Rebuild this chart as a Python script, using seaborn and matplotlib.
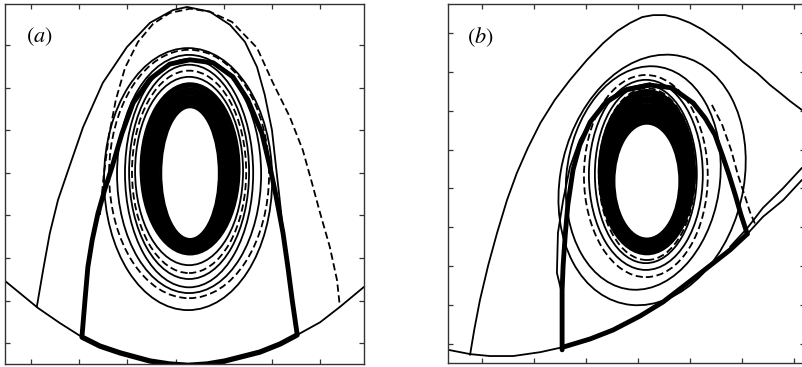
import matplotlib
matplotlib.use("Agg")
import matplotlib.pyplot as plt
from matplotlib.patches import Ellipse
import seaborn as sns

# ---------------- Panel (a) data ----------------
a_bottom_x = [0.46, 1.15, 1.60, 2.06, 2.43, 2.85, 3.47, 3.88, 4.26, 4.65, 5.02, 5.75, 6.17, 6.52, 7.00, 7.41, 7.91]
a_bottom_y = [2.46, 1.82, 1.47, 1.14, 0.93, 0.77, 0.58, 0.51, 0.48, 0.51, 0.58, 0.79, 0.98, 1.19, 1.49, 1.85, 2.32]
a_thickbot_x = [2.06, 2.43, 2.85, 3.47, 3.88, 4.26, 4.65, 5.02, 5.75, 6.17, 6.52]
a_thickbot_y = [1.14, 0.93, 0.77, 0.58, 0.51, 0.48, 0.51, 0.58, 0.79, 0.98, 1.19]
a_arch_x = [2.06, 2.12, 2.18, 2.27, 2.39, 2.54, 2.68, 2.89, 3.12, 3.47, 3.88, 4.30, 4.78, 5.19, 5.50, 5.79, 5.96, 6.08, 6.23, 6.33, 6.42, 6.52]
a_arch_y = [1.19, 2.01, 2.79, 3.42, 4.05, 4.64, 5.13, 5.93, 6.64, 7.20, 7.55, 7.65, 7.58, 7.25, 6.71, 5.93, 5.13, 4.48, 3.58, 2.79, 2.01, 1.23]
a_outer_x = [1.12, 1.25, 1.39, 1.56, 1.75, 2.08, 2.49, 2.99, 3.47, 3.95, 4.24, 4.71, 5.13, 5.44, 5.69, 5.85, 6.00, 6.08, 6.15, 6.23]
a_outer_y = [1.85, 2.71, 3.58, 4.36, 4.99, 6.07, 7.11, 7.95, 8.52, 8.82, 8.89, 8.78, 8.47, 8.07, 7.48, 6.83, 6.00, 5.18, 4.48, 3.65]
a_dash_x = [2.43, 2.51, 2.62, 2.76, 2.95, 3.22, 3.53, 3.88, 4.30, 4.71, 5.17, 5.69, 6.02, 6.37, 6.64, 6.83, 7.00, 7.20, 7.35, 7.41]
a_dash_y = [4.01, 4.95, 5.89, 6.71, 7.46, 8.07, 8.49, 8.75, 8.85, 8.78, 8.54, 7.93, 7.11, 6.31, 5.53, 4.76, 4.05, 3.26, 2.48, 1.85]
# closed orbits: centre x, centre y, width, height, dashed?
a_ring_cx = [4.26, 4.28, 4.28, 4.28, 4.28, 4.28, 4.28]
a_ring_cy = [4.85, 4.97, 4.97, 4.99, 5.02, 5.02, 5.04]
a_ring_w = [3.49, 3.32, 2.99, 2.66, 2.49, 2.37, 2.24]
a_ring_h = [6.15, 5.83, 5.59, 5.36, 5.03, 4.75, 4.42]
a_ring_dash = [False, True, False, False, False, True, False]
a_core_cx = [4.30] * 10
a_core_cy = [4.99, 5.00, 5.01, 5.02, 5.03, 5.04, 5.05, 5.06, 5.08, 5.09]
a_core_w = [1.22, 1.32, 1.40, 1.49, 1.59, 1.67, 1.76, 1.85, 1.94, 2.03]
a_core_h = [3.12, 3.22, 3.32, 3.42, 3.51, 3.61, 3.71, 3.81, 3.90, 3.99]

# ---------------- Panel (b) data ----------------
b_bottom_x = [0.35, 0.77, 1.15, 1.60, 2.12, 2.56, 3.08, 3.52, 4.04, 4.48, 5.13, 5.77, 6.10, 6.40, 6.79, 7.15]
b_bottom_y = [0.85, 0.74, 0.69, 0.69, 0.79, 0.92, 1.13, 1.36, 1.72, 2.08, 2.75, 3.42, 3.83, 4.27, 4.70, 5.22]
b_upper_x = [5.77, 6.10, 6.40, 6.79, 7.15]
b_upper_y = [3.50, 3.98, 4.50, 5.01, 5.53]
b_thickbot_x = [2.56, 3.08, 3.52, 4.04, 4.48, 5.13, 5.77, 6.10]
b_thickbot_y = [0.92, 1.13, 1.36, 1.72, 2.08, 2.75, 3.42, 3.83]
b_arch_x = [2.54, 2.54, 2.54, 2.56, 2.60, 2.65, 2.75, 2.88, 3.08, 3.37, 3.75, 4.23, 4.65, 5.06, 5.29, 5.48, 5.62, 5.75, 5.87, 5.98, 6.10]
b_arch_y = [0.85, 1.62, 2.39, 3.03, 3.80, 4.58, 5.48, 6.12, 6.71, 7.20, 7.53, 7.66, 7.59, 7.20, 6.81, 6.38, 5.86, 5.35, 4.83, 4.32, 3.83]
b_outer_x = [0.77, 0.85, 0.96, 1.12, 1.29, 1.48, 1.67, 1.88, 2.12, 2.40, 2.69, 3.02, 3.33, 3.60, 3.85, 4.08, 4.29, 4.52, 4.75, 5.00, 5.25, 5.52, 5.77, 6.02, 6.29, 6.54, 6.73, 6.92, 7.15]
b_outer_y = [0.72, 1.36, 2.13, 3.03, 3.86, 4.70, 5.40, 6.04, 6.68, 7.28, 7.79, 8.31, 8.74, 9.05, 9.26, 9.41, 9.46, 9.46, 9.39, 9.26, 9.08, 8.82, 8.56, 8.25, 7.97, 7.66, 7.46, 7.25, 7.02]
b_comp_x = [2.52, 2.44, 2.46, 2.56, 2.69, 2.88, 3.12, 3.40, 3.79, 4.23]
b_comp_y = [2.39, 2.83, 3.86, 4.70, 5.55, 6.25, 6.81, 7.28, 7.59, 7.71]
b_dash_x = [5.42, 5.62, 5.79, 5.92, 6.06, 6.15, 6.25]
b_dash_y = [7.15, 6.63, 5.99, 5.35, 4.78, 4.40, 4.09]
b_ring_cx = [4.27, 4.10, 4.15, 4.15, 4.15, 4.17]
b_ring_cy = [5.22, 5.27, 5.32, 5.35, 5.37, 5.37]
b_ring_w = [3.54, 2.96, 2.38, 2.19, 1.96, 1.85]
b_ring_h = [6.48, 5.76, 5.20, 4.89, 4.58, 4.42]
b_ring_tilt = [-7, -4, 0, 0, 0, 0]
b_ring_dash = [False, False, True, False, False, True]
b_core_cx = [4.17] * 10
b_core_cy = [5.19, 5.22, 5.24, 5.27, 5.30, 5.32, 5.35, 5.37, 5.40, 5.42]
b_core_w = [1.29, 1.35, 1.40, 1.46, 1.52, 1.58, 1.63, 1.69, 1.75, 1.81]
b_core_h = [3.01, 3.14, 3.27, 3.40, 3.52, 3.65, 3.78, 3.91, 4.04, 4.17]

a_xticks = [1, 2, 3, 4, 5, 6, 7]
a_yticks = [1, 2, 3, 4, 5, 6, 7, 8]
b_xticks = [1, 2, 3, 4, 5, 6, 7]
b_yticks = [1, 2, 3, 4, 5, 6, 7, 8, 9]

sns.set_style("white")
plt.rcParams["mathtext.fontset"] = "stix"

DASH = (0, (4, 2))
THIN = 1.3


def line(ax, x, y, lw=THIN, dashed=False):
    sns.lineplot(x=x, y=y, ax=ax, sort=False, estimator=None, color="black",
                 lw=lw, linestyle=DASH if dashed else "-")


def rings(ax, cx, cy, w, h, dash, lw, tilt=None):
    for i in range(len(cx)):
        ang = tilt[i] if tilt is not None else 0
        ax.add_patch(Ellipse((cx[i], cy[i]), w[i], h[i], angle=ang, fill=False,
                             ec="black", lw=lw, ls=DASH if dash[i] else "-"))


fig = plt.figure(figsize=(8.02, 3.67), dpi=100)
axa = fig.add_axes([5 / 802, 3 / 367, 359 / 802, 360 / 367])
axb = fig.add_axes([448 / 802, 4 / 367, 357 / 802, 359 / 367])

# panel a
rings(axa, a_ring_cx, a_ring_cy, a_ring_w, a_ring_h, a_ring_dash, THIN)
rings(axa, a_core_cx, a_core_cy, a_core_w, a_core_h, [False] * 10, 2.3)
line(axa, a_bottom_x, a_bottom_y)
line(axa, a_outer_x, a_outer_y)
line(axa, a_dash_x, a_dash_y, dashed=True)
line(axa, a_thickbot_x, a_thickbot_y, lw=3.8)
line(axa, a_arch_x, a_arch_y, lw=3.5)
axa.set_xlim(0.46, 7.91)
axa.set_ylim(0.51, 8.96)
axa.set_xticks(a_xticks)
axa.set_yticks(a_yticks)

# panel b
rings(axb, b_ring_cx, b_ring_cy, b_ring_w, b_ring_h, b_ring_dash, THIN, b_ring_tilt)
rings(axb, b_core_cx, b_core_cy, b_core_w, b_core_h, [False] * 10, 3.0)
line(axb, b_bottom_x, b_bottom_y)
line(axb, b_upper_x, b_upper_y)
line(axb, b_outer_x, b_outer_y)
line(axb, b_comp_x, b_comp_y)
line(axb, b_dash_x, b_dash_y, dashed=True)
line(axb, b_thickbot_x, b_thickbot_y, lw=3.5)
line(axb, b_arch_x, b_arch_y, lw=3.5)
axb.set_xlim(0.346, 7.21)
axb.set_ylim(0.511, 9.746)
axb.set_xticks(b_xticks)
axb.set_yticks(b_yticks)

for ax, lab in ((axa, r"$(\mathit{a})$"), (axb, r"$(\mathit{b})$")):
    ax.tick_params(direction="in", length=3.5, width=0.9, color="#333333",
                   top=True, right=True, bottom=True, left=True,
                   labelbottom=False, labelleft=False)
    for s in ax.spines.values():
        s.set_color("#333333")
        s.set_linewidth(1.0)
    ax.set_xlabel("")
    ax.set_ylabel("")
    ax.text(0.058 if ax is axa else 0.052, 0.908, lab, transform=ax.transAxes,
            fontsize=16, ha="left", va="center", color="black")

fig.savefig("out.png", dpi=100)
